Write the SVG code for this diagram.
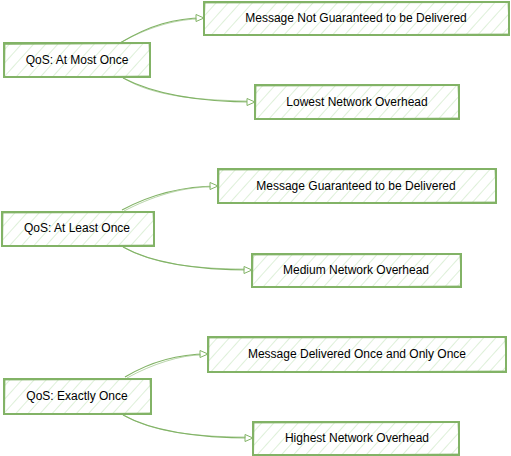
<svg xmlns="http://www.w3.org/2000/svg" width="511" height="456" viewBox="0 0 511 456">
<defs>
<pattern id="hatch" patternUnits="userSpaceOnUse" width="9" height="9" patternTransform="rotate(42)">
<line x1="0" y1="0" x2="0" y2="9" stroke="#a8d89a" stroke-width="1" stroke-opacity="0.75"/>
</pattern>
<marker id="arr" markerUnits="userSpaceOnUse" markerWidth="10" markerHeight="9" refX="9" refY="4.5" orient="auto">
<path d="M1,1 L9,4.5 L1,8 Z" fill="#ffffff" stroke="#82b366" stroke-width="1"/>
</marker>
</defs>
<style>
.box{fill:url(#hatch);stroke:#82b366;stroke-width:2;}
.sk{fill:none;stroke:#82b366;stroke-width:1;stroke-opacity:0.8;}
.lbl{font-family:"Liberation Sans",Arial,sans-serif;font-size:12px;fill:#000;text-anchor:middle;dominant-baseline:central;}
.edge{fill:none;stroke:#82b366;stroke-width:1.2;}
.edge2{fill:none;stroke:#82b366;stroke-width:0.8;stroke-opacity:0.7;}
</style>
<rect width="511" height="456" fill="#ffffff"/>
<g id="edges">
<path class="edge" d="M120 43 C150 25, 175 18, 204 18" marker-end="url(#arr)"/>
<path class="edge2" d="M118 44 C148 27, 174 20, 197 19"/>
<path class="edge" d="M123 78 C150 92, 190 102, 255 102" marker-end="url(#arr)"/>
<path class="edge2" d="M125 79 C152 95, 192 100, 247 101"/>
<path class="edge" d="M122 210 C150 195, 180 186, 218 186" marker-end="url(#arr)"/>
<path class="edge2" d="M124 211 C151 197, 181 187, 211 187"/>
<path class="edge" d="M123 247 C150 262, 190 270, 252 270" marker-end="url(#arr)"/>
<path class="edge2" d="M125 248 C152 263, 192 269, 245 269"/>
<path class="edge" d="M125 377 C150 362, 180 354, 208 354" marker-end="url(#arr)"/>
<path class="edge2" d="M127 378 C152 364, 181 355, 201 355"/>
<path class="edge" d="M123 415 C150 430, 190 438, 253 438" marker-end="url(#arr)"/>
<path class="edge2" d="M125 416 C152 431, 192 437, 246 437"/>
</g>
<g id="n1">
<rect class="box" x="4" y="43" width="146" height="34"/>
<path class="sk" d="M5 44.5 L149 43.5 L150.5 76 L4.5 77.5 Z"/>
<text class="lbl" x="77" y="60">QoS: At Most Once</text>
</g>
<g id="n2">
<rect class="box" x="204" y="2" width="305" height="33"/>
<path class="sk" d="M205 3 L508 2.5 L509.5 34 L203.5 35.5 Z"/>
<text class="lbl" x="356" y="18">Message Not Guaranteed to be Delivered</text>
</g>
<g id="n3">
<rect class="box" x="255" y="85" width="204" height="34"/>
<path class="sk" d="M256 86 L458 85.5 L459.5 118 L255.5 119.5 Z"/>
<text class="lbl" x="357" y="102">Lowest Network Overhead</text>
</g>
<g id="n4">
<rect class="box" x="2" y="212" width="152" height="34"/>
<path class="sk" d="M3 213 L153 212.5 L154.5 245 L2.5 246.5 Z"/>
<text class="lbl" x="77" y="228">QoS: At Least Once</text>
</g>
<g id="n5">
<rect class="box" x="218" y="169" width="278" height="34"/>
<path class="sk" d="M219 170 L495 169.5 L496.5 202 L218.5 203.5 Z"/>
<text class="lbl" x="356" y="186">Message Guaranteed to be Delivered</text>
</g>
<g id="n6">
<rect class="box" x="252" y="254" width="209" height="33"/>
<path class="sk" d="M253 255 L460 254.5 L461.5 286 L252.5 287.5 Z"/>
<text class="lbl" x="356" y="270">Medium Network Overhead</text>
</g>
<g id="n7">
<rect class="box" x="4" y="379" width="147" height="35"/>
<path class="sk" d="M5 380 L150 379.5 L151.5 413 L4.5 414.5 Z"/>
<text class="lbl" x="77" y="396">QoS: Exactly Once</text>
</g>
<g id="n8">
<rect class="box" x="208" y="337" width="298" height="35"/>
<path class="sk" d="M209 338 L505 337.5 L506.5 371 L208.5 372.5 Z"/>
<text class="lbl" x="357" y="354">Message Delivered Once and Only Once</text>
</g>
<g id="n9">
<rect class="box" x="253" y="422" width="206" height="33"/>
<path class="sk" d="M254 423 L458 422.5 L459.5 454 L253.5 455.5 Z"/>
<text class="lbl" x="357" y="438">Highest Network Overhead</text>
</g>
</svg>
